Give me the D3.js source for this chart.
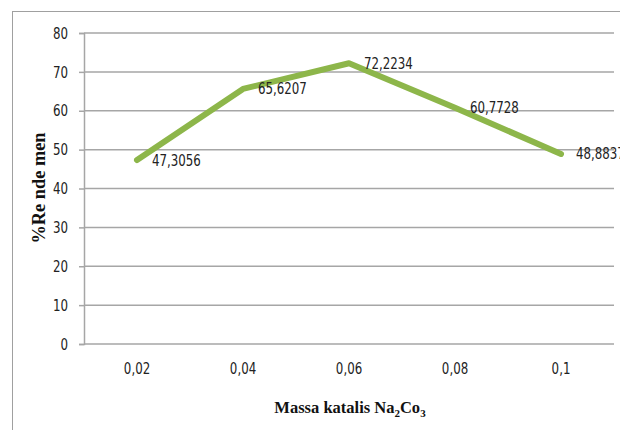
<!DOCTYPE html>
<html>
<head>
<meta charset="utf-8">
<script src="https://cdn.jsdelivr.net/npm/d3@7"></script>
<style>
  html, body { margin: 0; padding: 0; background: #fff; }
  svg { display: block; }
</style>
</head>
<body>
<svg id="chart" width="620" height="430"></svg>
<script>
// Catalyst mass (x categories) and yield values
const categories = ["0,02", "0,04", "0,06", "0,08", "0,1"];
const rendemen = [47.3056, 65.6207, 72.2234, 60.7728, 48.8837];
const valueLabels = ["47,3056", "65,6207", "72,2234", "60,7728", "48,8837"];
const yTicks = [0, 10, 20, 30, 40, 50, 60, 70, 80];

const svg = d3.select("#chart");
const plotLeft = 84, plotRight = 614, plotTop = 33, plotBottom = 344;
const numFont = "'DejaVu Sans Condensed', 'Liberation Sans Narrow', 'Open Sans', sans-serif";
const gridColor = "#a6a6a6";

// narrow the glyphs of a text selection horizontally
function squeeze(sel, factor) {
  sel.each(function () {
    const w = this.getComputedTextLength();
    d3.select(this).attr("textLength", w * factor).attr("lengthAdjust", "spacingAndGlyphs");
  });
}

// outer frame
svg.append("rect")
  .attr("x", 12.5).attr("y", 11.5)
  .attr("width", 700).attr("height", 500)
  .attr("fill", "none").attr("stroke", "#a0a0a0").attr("stroke-width", 1);

const x = d3.scaleBand().domain(categories).range([plotLeft, plotRight]);
const y = d3.scaleLinear().domain([0, 80]).range([plotBottom, plotTop]);

// horizontal gridlines
svg.append("g").selectAll("line").data(yTicks).join("line")
  .attr("x1", plotLeft).attr("x2", plotRight)
  .attr("y1", d => y(d)).attr("y2", d => y(d))
  .attr("stroke", gridColor).attr("stroke-width", 1.5);

// y axis
const yAxis = svg.append("g")
  .attr("transform", `translate(${plotLeft},0)`)
  .call(d3.axisLeft(y).tickValues(yTicks).tickSize(5).tickPadding(11).tickFormat(d3.format("d")));
yAxis.select(".domain").attr("stroke", gridColor).attr("stroke-width", 1.5);
yAxis.selectAll(".tick line").attr("stroke", gridColor).attr("stroke-width", 1.5);
yAxis.selectAll(".tick text")
  .attr("font-family", numFont).attr("font-size", 16).attr("fill", "#222")
  .call(squeeze, 0.82);

// x axis labels
const xAxis = svg.append("g")
  .attr("transform", `translate(0,${plotBottom})`)
  .call(d3.axisBottom(x).tickSize(0).tickPadding(19));
xAxis.select(".domain").remove();
xAxis.selectAll(".tick text")
  .attr("font-family", numFont).attr("font-size", 16).attr("fill", "#222")
  .call(squeeze, 0.82);

// data line
const pts = categories.map((c, i) => [x(c) + x.bandwidth() / 2, y(rendemen[i])]);
svg.append("path")
  .attr("d", d3.line()(pts))
  .attr("fill", "none")
  .attr("stroke", "#8db64a")
  .attr("stroke-width", 6)
  .attr("stroke-linejoin", "round")
  .attr("stroke-linecap", "round");

// value labels
svg.append("g").selectAll("text").data(categories).join("text")
  .attr("x", (c) => x(c) + x.bandwidth() / 2 + 15)
  .attr("y", (c, i) => y(rendemen[i]) + 1)
  .attr("dominant-baseline", "middle")
  .attr("font-family", numFont).attr("font-size", 16).attr("fill", "#222")
  .text((c, i) => valueLabels[i])
  .call(squeeze, 0.82);

// axis titles
const titleFont = "'Liberation Serif', 'Times New Roman', serif";
const xt = svg.append("text")
  .attr("x", 350).attr("y", 413)
  .attr("text-anchor", "middle")
  .attr("font-family", titleFont).attr("font-weight", "bold").attr("font-size", 16.5).attr("fill", "#111");
xt.append("tspan").text("Massa katalis Na");
xt.append("tspan").attr("font-size", 11).attr("dy", 4).text("2");
xt.append("tspan").attr("dy", -4).text("Co");
xt.append("tspan").attr("font-size", 11).attr("dy", 4).text("3");

svg.append("text")
  .attr("transform", "translate(45,188) rotate(-90)")
  .attr("text-anchor", "middle")
  .attr("font-family", titleFont).attr("font-weight", "bold").attr("font-size", 18).attr("fill", "#111")
  .attr("textLength", 111).attr("lengthAdjust", "spacingAndGlyphs")
  .text("%Re nde men");
</script>
</body>
</html>
